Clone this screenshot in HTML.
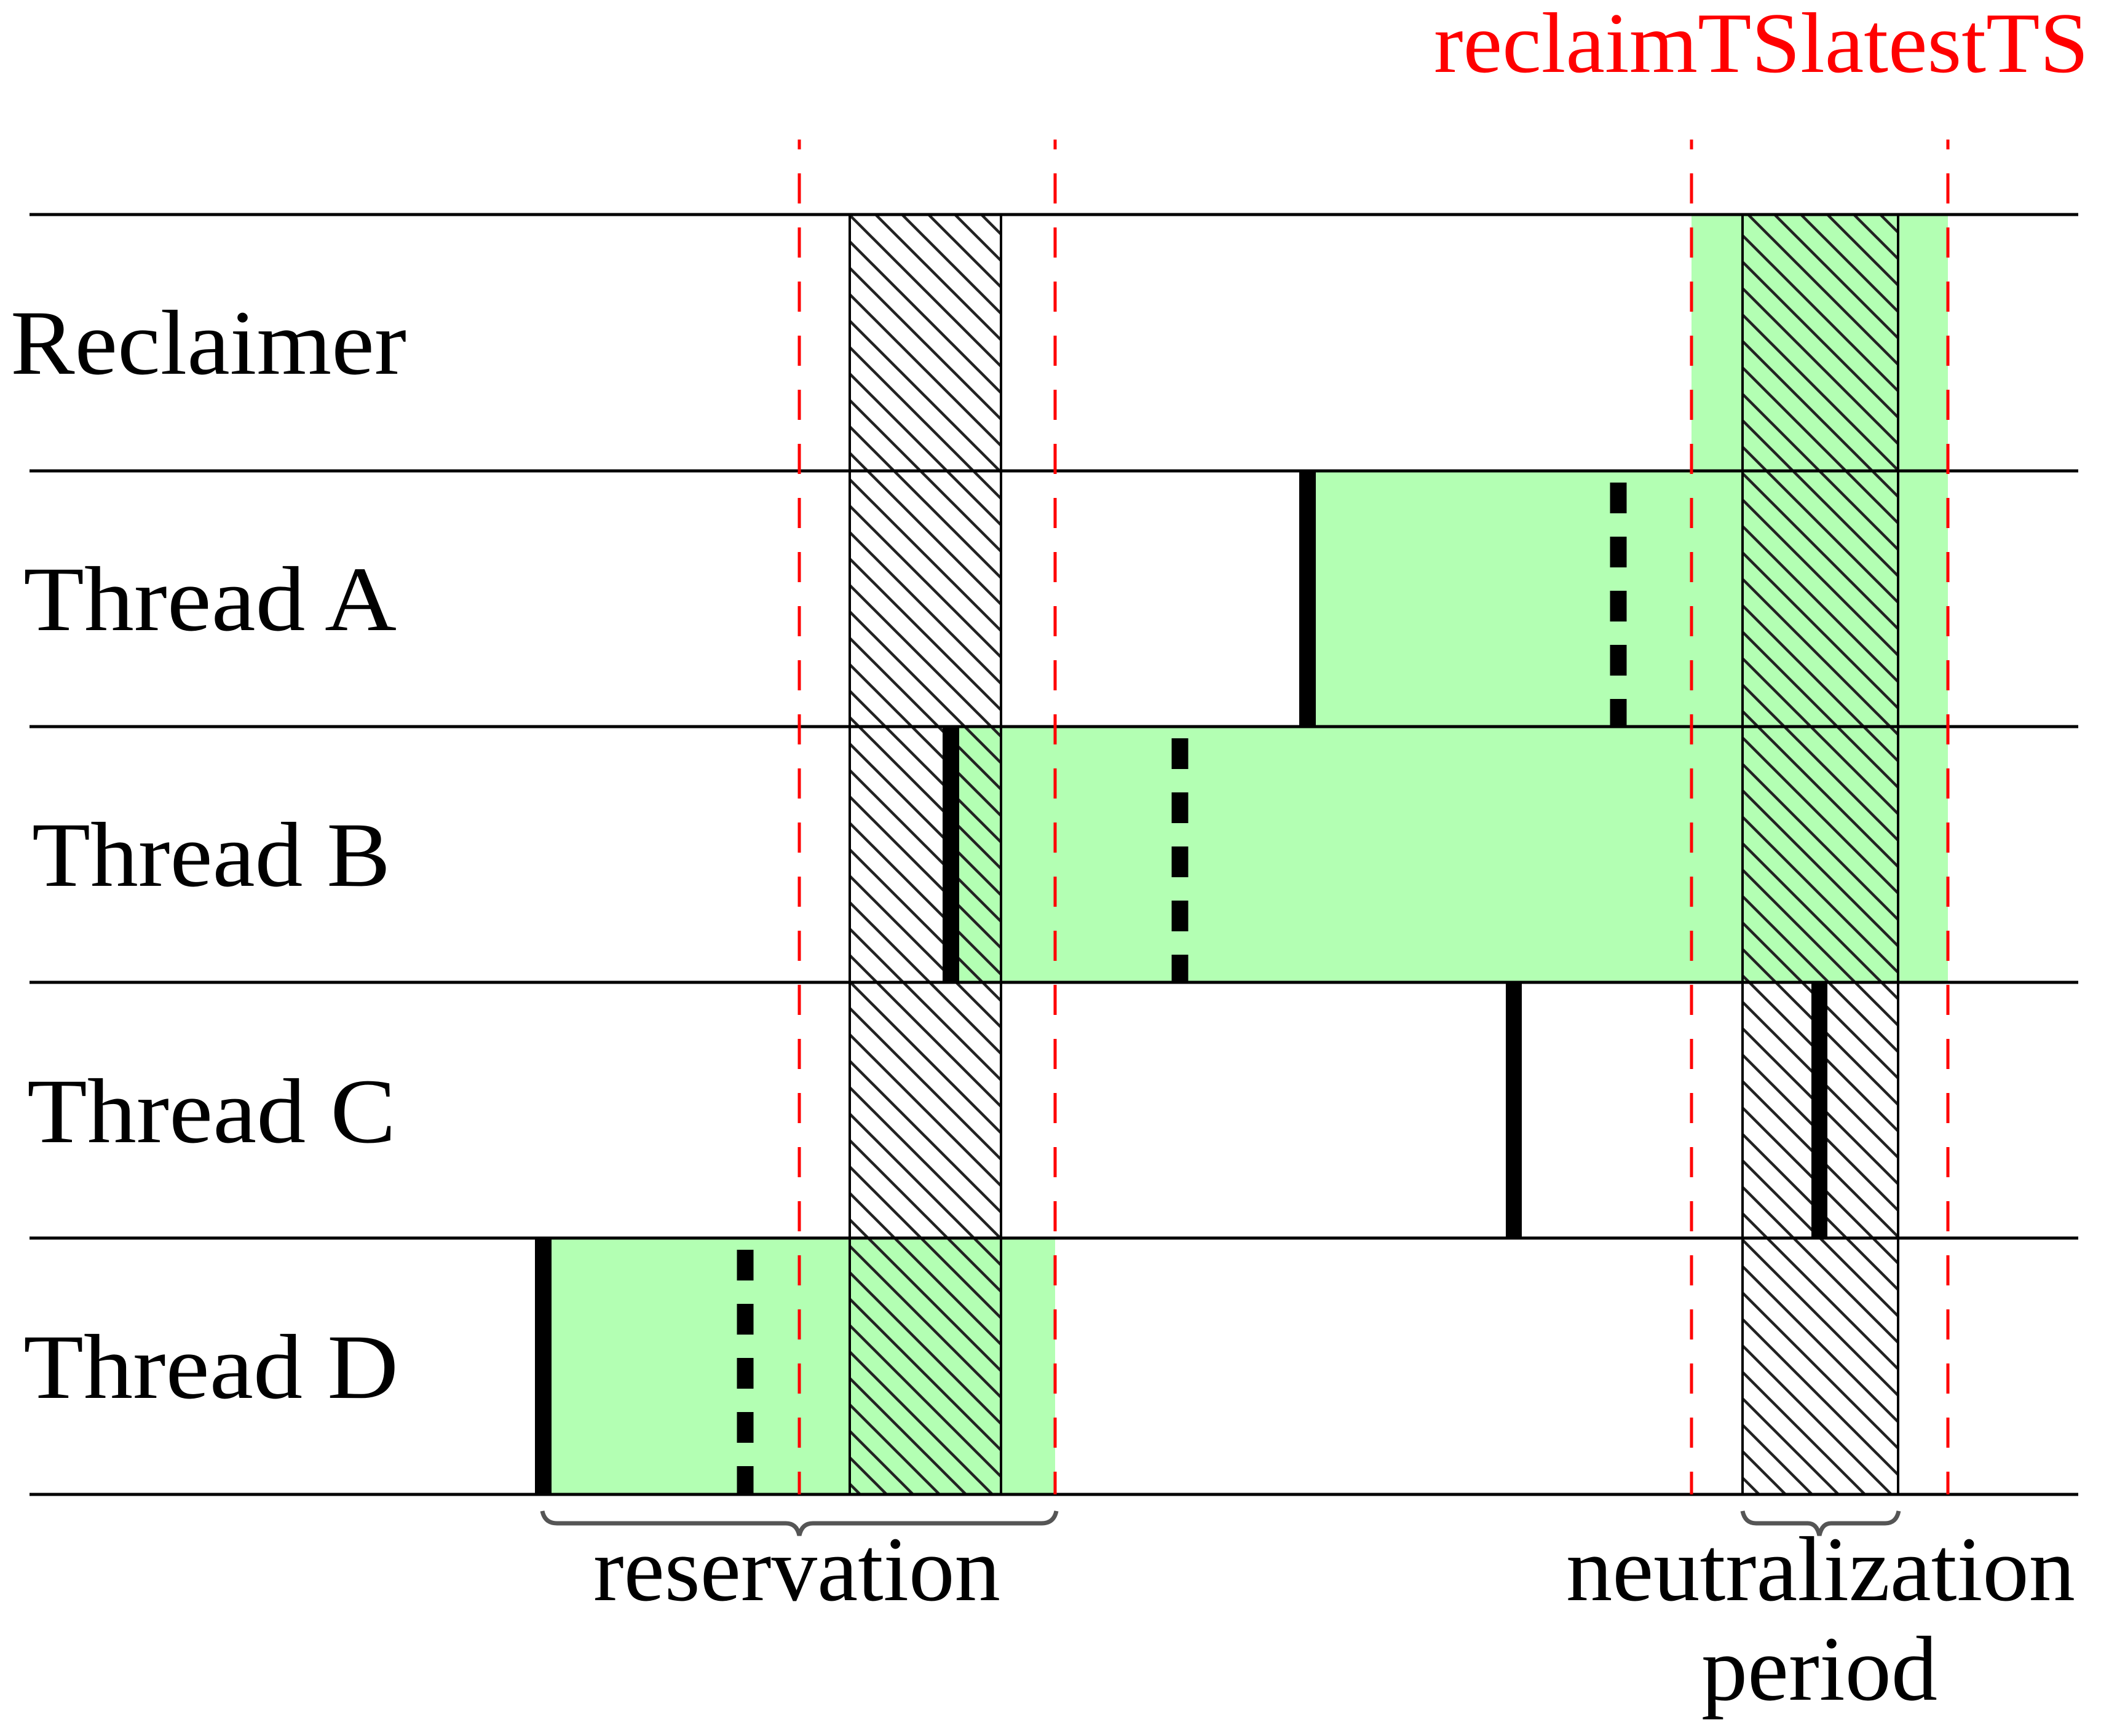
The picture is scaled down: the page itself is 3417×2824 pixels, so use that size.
<!DOCTYPE html>
<html><head><meta charset="utf-8"><style>
html,body{margin:0;padding:0;background:#fff;}
svg{display:block;}
text{font-family:"Liberation Serif",serif;}
</style></head><body>
<svg width="3417" height="2824" viewBox="0 0 3417 2824" xmlns="http://www.w3.org/2000/svg">
<defs>
<pattern id="h" patternUnits="userSpaceOnUse" width="43" height="43">
<path d="M-10,-10 L53,53 M-10,33 L10,53 M33,-10 L53,10" stroke="#222" stroke-width="4.5"/>
</pattern>
</defs>
<!-- green regions -->
<rect x="2751" y="349" width="417" height="1249" fill="#b3ffb3"/>
<rect x="2126" y="766" width="1042" height="416" fill="#b3ffb3"/>
<rect x="1546" y="1182" width="1622" height="416" fill="#b3ffb3"/>
<rect x="883" y="2014" width="833" height="417" fill="#b3ffb3"/>
<!-- hatched boxes -->
<rect x="1382" y="349" width="246" height="2082" fill="url(#h)" stroke="#000" stroke-width="4"/>
<rect x="2834" y="349" width="253" height="2082" fill="url(#h)" stroke="#000" stroke-width="4"/>
<!-- horizontal lines -->
<g stroke="#000" stroke-width="5">
<line x1="48" y1="349" x2="3380" y2="349"/>
<line x1="48" y1="766" x2="3380" y2="766"/>
<line x1="48" y1="1182" x2="3380" y2="1182"/>
<line x1="48" y1="1598" x2="3380" y2="1598"/>
<line x1="48" y1="2014" x2="3380" y2="2014"/>
<line x1="48" y1="2431" x2="3380" y2="2431"/>
</g>
<!-- red dashed verticals -->
<g stroke="#ff0000" stroke-width="5" stroke-dasharray="49 39" stroke-dashoffset="33">
<line x1="1300" y1="227" x2="1300" y2="2431"/>
<line x1="1716" y1="227" x2="1716" y2="2431"/>
<line x1="2751" y1="227" x2="2751" y2="2431"/>
<line x1="3168" y1="227" x2="3168" y2="2431"/>
</g>
<!-- solid black bars -->
<g fill="#000">
<rect x="2113" y="766" width="27" height="416"/>
<rect x="1533" y="1182" width="27" height="416"/>
<rect x="2449" y="1598" width="26" height="416"/>
<rect x="2946" y="1598" width="26" height="416"/>
<rect x="870" y="2014" width="27" height="417"/>
</g>
<!-- dashed black bars -->
<g stroke="#000" stroke-width="27" stroke-dasharray="50 38">
<line x1="2632" y1="785" x2="2632" y2="1182"/>
<line x1="1919" y1="1201" x2="1919" y2="1598"/>
<line x1="1212" y1="2033" x2="1212" y2="2431"/>
</g>
<!-- braces -->
<g fill="none" stroke="#555" stroke-width="7">
<path d="M882,2458 Q886,2478 906,2478 L1278,2478 Q1296,2478 1300,2498 Q1304,2478 1322,2478 L1694,2478 Q1714,2478 1718,2458"/>
<path d="M2834,2458 Q2838,2478 2856,2478 L2940,2478 Q2955,2478 2959,2498 Q2963,2478 2978,2478 L3066,2478 Q3084,2478 3088,2458"/>
</g>
<!-- labels -->
<g font-size="150" fill="#000">
<text x="17" y="608" textLength="644" lengthAdjust="spacingAndGlyphs">Reclaimer</text>
<text x="38" y="1025" textLength="607" lengthAdjust="spacingAndGlyphs">Thread A</text>
<text x="52" y="1441" textLength="583" lengthAdjust="spacingAndGlyphs">Thread B</text>
<text x="44" y="1858" textLength="600" lengthAdjust="spacingAndGlyphs">Thread C</text>
<text x="38" y="2274" textLength="610" lengthAdjust="spacingAndGlyphs">Thread D</text>
<text x="965" y="2603" textLength="662" lengthAdjust="spacingAndGlyphs">reservation</text>
<text x="2547" y="2603" textLength="828" lengthAdjust="spacingAndGlyphs">neutralization</text>
<text x="2767" y="2765" textLength="384" lengthAdjust="spacingAndGlyphs">period</text>
</g>
<text x="2332" y="117" font-size="140" fill="#ff0000" textLength="1065" lengthAdjust="spacingAndGlyphs">reclaimTSlatestTS</text>
</svg>
</body></html>
